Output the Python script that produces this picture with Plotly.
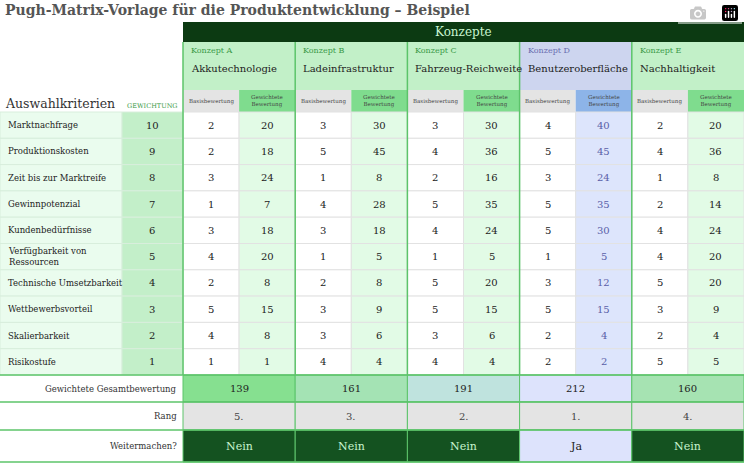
import plotly.graph_objects as go

criteria = ["Marktnachfrage", "Produktionskosten", "Zeit bis zur Marktreife", "Gewinnpotenzial",
            "Kundenbedürfnisse", "Verfügbarkeit von<br>Ressourcen", "Technische Umsetzbarkeit",
            "Wettbewerbsvorteil", "Skalierbarkeit", "Risikostufe"]
weights = [10, 9, 8, 7, 6, 5, 4, 3, 2, 1]
concept_ids = ["Konzept A", "Konzept B", "Konzept C", "Konzept D", "Konzept E"]
concept_names = ["Akkutechnologie", "Ladeinfrastruktur", "Fahrzeug-Reichweite", "Benutzeroberfläche", "Nachhaltigkeit"]
scores_A = [2, 2, 3, 1, 3, 4, 2, 5, 4, 1]
scores_B = [3, 5, 1, 4, 3, 1, 2, 3, 3, 4]
scores_C = [3, 4, 2, 5, 4, 1, 5, 5, 3, 4]
scores_D = [4, 5, 3, 5, 5, 1, 3, 5, 2, 2]
scores_E = [2, 4, 1, 2, 4, 4, 5, 3, 2, 5]
ranks = ["5.", "3.", "2.", "1.", "4."]
decisions = ["Nein", "Nein", "Nein", "Ja", "Nein"]

scores = [scores_A, scores_B, scores_C, scores_D, scores_E]
totals = [sum(s * w for s, w in zip(sc, weights)) for sc in scores]

FONT = "DejaVu Serif"
shapes, ann = [], []

def rect(x0, y0, x1, y1, fill, line=None, lw=0):
    shapes.append(dict(type="rect", x0=x0, x1=x1, y0=y0, y1=y1, fillcolor=fill,
                       line=dict(color=line or fill, width=lw), layer="below"))

def txt(x, y, t, size=10, color="#222", xa="center", **kw):
    ann.append(dict(x=x, y=y, text=t, showarrow=False, xanchor=xa, yanchor="middle",
                    font=dict(family=FONT, size=size, color=color), **kw))

ann.append(dict(x=3, y=10, text="<b>Pugh-Matrix-Vorlage für die Produktentwicklung – Beispiel</b>",
                showarrow=False, xanchor="left", yanchor="middle",
                font=dict(family=FONT, size=14, color="#555")))

X0 = 183
CW = 112.2
rect(X0, 22, 744, 42, "#0c3a12")
txt(463, 32, "Konzepte", 12, "#c8f5cf")

top, rh = 112, 26.3
for i in range(5):
    cx = X0 + i * CW
    isD = i == 3
    rect(cx, 42, cx + CW, 90, "#cdd5ef" if isD else "#c2f0c8")
    txt(cx + 6, 50, concept_ids[i], 8, "#6a6fb0" if isD else "#3b9a48", xa="left")
    txt(cx + 6, 68, concept_names[i], 10, "#222", xa="left")
    rect(cx, 90, cx + CW / 2, 112, "#e4e4e4")
    rect(cx + CW / 2, 90, cx + CW, 112, "#8db4e8" if isD else "#7fdc8e")
    txt(cx + CW / 4, 101, "Basisbewertung", 5.5, "#444")
    txt(cx + 3 * CW / 4, 101, "Gewichtete<br>Bewertung", 5.5, "#444")
    for r in range(10):
        y0 = top + r * rh
        rect(cx, y0, cx + CW / 2, y0 + rh, "white", "#e2e2e2", 1)
        rect(cx + CW / 2, y0, cx + CW, y0 + rh, "#dde5fc" if isD else "#e2fbe6", "#e2e2e2", 1)
        txt(cx + CW / 4, y0 + rh / 2, str(scores[i][r]), 10)
        txt(cx + 3 * CW / 4, y0 + rh / 2, str(scores[i][r] * weights[r]), 10,
            "#5a5fa8" if isD else "#222")
    tot_cols = ["#86e090", "#a4e3b4", "#bfe3de", "#dde3fc", "#a6e3b2"]
    rect(cx, 375, cx + CW, 402, tot_cols[i], "#5cc46a", 1)
    txt(cx + CW / 2, 388.5, str(totals[i]), 10)
    rect(cx, 402, cx + CW, 430, "#e4e4e4", "#5cc46a", 1)
    txt(cx + CW / 2, 416, ranks[i], 10, "#444")
    rect(cx, 430, cx + CW, 462, "#dde3fc" if isD else "#145220", "#5cc46a", 1)
    txt(cx + CW / 2, 446, decisions[i], 11, "#222" if isD else "#c8f5cf")
    shapes.append(dict(type="line", x0=cx, x1=cx, y0=42, y1=375, line=dict(color="#5cc46a", width=1.5)))

txt(3, 103, "Auswahlkriterien", 12.5, "#333", xa="left")
txt(152, 106, "GEWICHTUNG", 6.5, "#3b9a48")
for r in range(10):
    y0 = top + r * rh
    rect(0, y0, 122, y0 + rh, "#eafcee", "#d8eedc", 1)
    rect(122, y0, 183, y0 + rh, "#c3efc9", "#d8eedc", 1)
    txt(6, y0 + rh / 2, criteria[r], 8.5, "#222", xa="left", align="left")
    txt(152, y0 + rh / 2, str(weights[r]), 10, "#222")

shapes.append(dict(type="line", x0=0, x1=744, y0=375, y1=375, line=dict(color="#5cc46a", width=1.5)))
for yy, t in [(388.5, "Gewichtete Gesamtbewertung"), (416, "Rang"), (446, "Weitermachen?")]:
    txt(179, yy, t, 8.5, "#333", xa="right")
for yy in [402, 430, 462]:
    shapes.append(dict(type="line", x0=0, x1=744, y0=yy, y1=yy, line=dict(color="#5cc46a", width=1.5)))

fig = go.Figure()
fig.update_layout(width=744, height=465, margin=dict(l=0, r=0, t=0, b=0),
                  plot_bgcolor="white", paper_bgcolor="white", shapes=shapes, annotations=ann,
                  xaxis=dict(range=[0, 744], visible=False, fixedrange=True),
                  yaxis=dict(range=[465, 0], visible=False, fixedrange=True),
                  showlegend=False)
fig.write_html("out.html", post_script="document.body.style.margin='0';document.body.style.overflow='hidden';")
